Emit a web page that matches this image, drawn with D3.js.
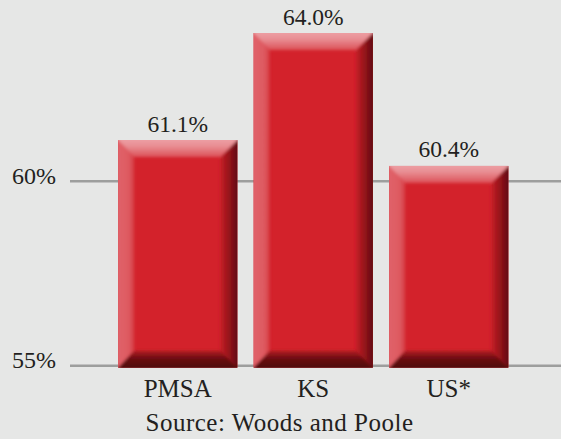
<!DOCTYPE html>
<html>
<head>
<meta charset="utf-8">
<script src="https://cdn.jsdelivr.net/npm/d3@7"></script>
<style>
  html, body { margin: 0; padding: 0; background: #e6e7e6; }
  svg { display: block; }
  text { font-family: "Liberation Serif", "Times New Roman", serif; fill: #231f20; }
</style>
</head>
<body>
<svg id="chart" width="561" height="439"></svg>
<script>
// Share of population (percent) by area
const categories = ["PMSA", "KS", "US*"];
const values = [61.1, 64.0, 60.4];
const valueLabels = ["61.1%", "64.0%", "60.4%"];
const yTicks = [55, 60];
const yTickLabels = ["55%", "60%"];
const sourceNote = "Source: Woods and Poole";

const W = 561, H = 439;
const gridLeft = 70;
const baseValue = 55;

const svg = d3.select("#chart");

const x = d3.scaleBand()
  .domain(categories)
  .range([110, 516.5])
  .paddingInner(0.12)
  .paddingOuter(0.06);

const y = d3.scaleLinear()
  .domain([55, 65])
  .range([365.3, -3.9]);

// gradients for the bevelled bar faces
const defs = svg.append("defs");
function linGrad(id, x1, y1, x2, y2, stops) {
  const g = defs.append("linearGradient").attr("id", id)
    .attr("x1", x1).attr("y1", y1).attr("x2", x2).attr("y2", y2);
  stops.forEach(([o, c]) => g.append("stop").attr("offset", o).attr("stop-color", c));
}
linGrad("topFace", 0, 0, 0, 1, [[0, "#eea5a9"], [0.45, "#e88e93"], [1, "#dc4f57"]]);
linGrad("leftFace", 0, 0, 1, 0, [[0, "#e1646b"], [0.7, "#de5a61"], [1, "#d63d44"]]);
linGrad("rightFace", 0, 0, 1, 0, [[0, "#c41e26"], [0.45, "#94131a"], [1, "#4e090d"]]);
linGrad("bottomFace", 0, 0, 0, 1, [[0, "#b01a21"], [0.4, "#6a0d11"], [1, "#450a0c"]]);

const soft = defs.append("filter").attr("id", "soft")
  .attr("x", "-10%").attr("y", "-10%").attr("width", "120%").attr("height", "120%");
soft.append("feGaussianBlur").attr("stdDeviation", 1.6);

// gridlines and y labels
const yAxis = d3.axisLeft(y)
  .tickValues(yTicks)
  .tickFormat((d, i) => yTickLabels[i])
  .tickSizeInner(-(W - gridLeft))
  .tickSizeOuter(0)
  .tickPadding(14);

const gAxis = svg.append("g")
  .attr("transform", `translate(${gridLeft},0)`)
  .call(yAxis);
gAxis.select(".domain").remove();
gAxis.selectAll(".tick line").attr("stroke", "#9d9e9d").attr("stroke-width", 2.6);
gAxis.selectAll(".tick text")
  .attr("dy", "0.1em")
  .style("font-size", "24px")
  .style("font-family", "'Liberation Serif', serif")
  .attr("fill", "#231f20");

// bars
const bw = x.bandwidth();
const bandL = 16, bandR = 17, bandT = 17, bandB = 17;
const bottomY = y(baseValue) + 2.4;

const bars = svg.append("g").selectAll("g.bar")
  .data(categories.map((c, i) => ({ c, v: values[i], label: valueLabels[i] })))
  .join("g").attr("class", "bar");

bars.each(function (d, i) {
  const g = d3.select(this);
  const x0 = x(d.c), x1 = x0 + bw;
  const y0 = y(d.v), y1 = bottomY;
  const clipId = "clip" + i;
  defs.append("clipPath").attr("id", clipId)
    .append("rect").attr("x", x0).attr("y", y0).attr("width", bw).attr("height", y1 - y0);

  g.append("rect")
    .attr("x", x0).attr("y", y0).attr("width", bw).attr("height", y1 - y0)
    .attr("fill", "#d3222b");

  const faces = g.append("g").attr("clip-path", `url(#${clipId})`)
    .append("g").attr("filter", "url(#soft)");
  const pts = a => a.map(p => p.join(",")).join(" ");
  // left face
  faces.append("polygon").attr("fill", "url(#leftFace)")
    .attr("points", pts([[x0 - 3, y0 - 3], [x0 + bandL, y0 + bandT], [x0 + bandL, y1 - bandB], [x0 - 3, y1 + 3]]));
  // right face
  faces.append("polygon").attr("fill", "url(#rightFace)")
    .attr("points", pts([[x1 + 3, y0 - 3], [x1 + 3, y1 + 3], [x1 - bandR, y1 - bandB], [x1 - bandR, y0 + bandT]]));
  // bottom face
  faces.append("polygon").attr("fill", "url(#bottomFace)")
    .attr("points", pts([[x0 - 3, y1 + 3], [x1 + 3, y1 + 3], [x1 - bandR, y1 - bandB], [x0 + bandL, y1 - bandB]]));
  // top face
  faces.append("polygon").attr("fill", "url(#topFace)")
    .attr("points", pts([[x0 - 3, y0 - 3], [x1 + 3, y0 - 3], [x1 - bandR, y0 + bandT], [x0 + bandL, y0 + bandT]]));

  // value label
  g.append("text")
    .attr("x", x0 + bw / 2)
    .attr("y", y0 - 8.5)
    .attr("text-anchor", "middle")
    .style("font-size", "23.5px")
    .text(d.label);
});

// category labels
svg.append("g").selectAll("text")
  .data(categories)
  .join("text")
  .attr("x", d => x(d) + bw / 2)
  .attr("y", 397)
  .attr("text-anchor", "middle")
  .style("font-size", "25px")
  .text(d => d);

// source note
svg.append("text")
  .attr("x", 279.5)
  .attr("y", 431)
  .attr("text-anchor", "middle")
  .style("font-size", "25px")
  .style("letter-spacing", "0.5px")
  .text(sourceNote);
</script>
</body>
</html>
